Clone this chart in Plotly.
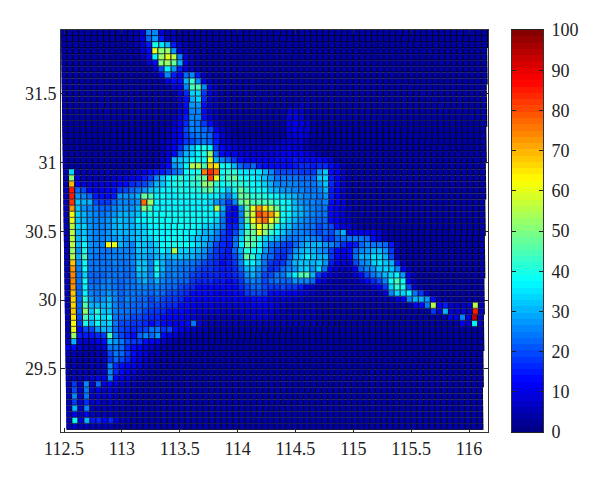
import numpy as np
import plotly.graph_objects as go

N_COLS = 70
BG = 4
x_ticks = [112.5, 113, 113.5, 114, 114.5, 115, 115.5, 116]
y_ticks = [29.5, 30, 30.5, 31, 31.5]
bar_ticks = list(range(0, 101, 10))

rows_river = [
    [4]*12+[6,9,25,25,8,5,5],
    [4]*12+[6,10,22,27,15,6,5],
    [4]*12+[5,9,15,40,35,30,15,7,5],
    [4]*13+[8,14,60,50,52,28,8,6],
    [4]*13+[7,12,36,52,60,55,25,8,6],
    [4]*14+[8,14,50,53,48,30,10,6],
    [4]*15+[8,20,36,28,15,8,6],
    [4]*16+[10,25,15,12,22,25,15,7],
    [4]*17+[10,14,14,30,43,26,10,6],
    [4]*18+[8,10,26,44,44,25,9,6],
    [4]*19+[8,16,34,34,18,8,5],
    [4]*19+[7,14,30,34,16,7,5],
    [4]*19+[7,13,28,28,14,7,5]+[4]*12+[6,7,6],
    [4]*19+[7,12,25,25,13,7,5]+[4]*11+[8,9,7],
    [4]*18+[6,9,15,26,25,14,8,5]+[4]*11+[9,10,8],
    [4]*18+[7,11,16,25,24,18,14,7,5]+[4]*10+[10,11,10,8],
    [4]*17+[6,8,12,20,25,25,22,20,12,7,5]+[4]*9+[10,11,10,8],
    [4]*17+[6,9,12,18,22,24,24,22,15,8,6]+[4]*9+[9,10,10,8],
    [4]*16+[5,7,10,14,18,20,22,24,22,15,9,7,5,5,5,5,5,5,6,6,8,9,9,8,6],
]
rows_body_top = [
    [4]*16+[6,8,12,16,26,32,38,40,36,18,12,10,8,7,7,7,7,7,8,9,9,10,9,8,6],
    [4]*16+[6,9,14,22,30,34,36,40,52,22,14,12,10,8,8,8,8,8,9,10,11,12,12,11,10,8,6],
    [4]*16+[7,10,30,32,34,38,38,38,60,30,25,22,18,14,12,12,12,12,12,13,14,14,15,14,14,13,14,12,8],
    [4]*16+[8,14,28,30,36,55,55,45,68,65,38,38,30,22,20,22,15,14,13,14,14,14,15,16,16,15,16,16,14,10,6],
    [4,33,5,5,5,5,5,5,5,5,6,7,8,10,13,15,15,18,22,26,38,38,40,75,83,78,38,42,42,35,35,35,35,30,25,20,20,20,20,18,18,18,28,32,14,11,7],
    [4,50,8,6,6,6,6,6,7,8,9,10,12,15,18,26,32,36,38,42,38,42,45,48,80,60,40,45,48,40,38,38,35,32,28,24,24,24,24,22,22,22,32,34,15,11,7],
    [4,70,12,9,8,8,8,9,10,12,14,16,18,20,24,30,32,36,40,40,38,42,42,52,50,42,38,40,42,42,40,38,36,34,30,26,26,26,26,24,24,24,28,32,16,11,7],
    [5,85,22,20,12,10,10,12,14,18,20,22,24,28,32,34,36,36,38,40,38,40,40,45,48,40,36,32,40,48,42,38,38,36,32,30,28,28,26,25,24,24,26,30,15,11,7],
    [5,85,28,25,22,15,14,14,15,28,28,28,30,48,45,36,38,36,36,38,38,38,38,38,36,36,30,26,34,48,46,42,42,40,38,36,34,32,30,28,26,26,24,28,15,11,7],
    [5,82,32,30,30,20,18,18,22,26,26,25,28,78,52,36,36,36,36,36,36,36,36,36,34,28,24,18,26,46,50,44,44,44,44,40,38,36,30,28,26,26,24,26,14,11,8],
    [5,72,32,28,26,24,22,22,25,28,28,28,30,50,45,36,36,36,36,36,36,36,36,36,36,55,30,15,12,28,46,60,72,65,55,48,40,36,32,30,28,26,24,24,14,11,8,6],
    [5,62,34,30,28,26,24,26,28,30,30,30,32,36,40,38,38,38,38,38,38,38,38,38,36,36,26,14,12,26,50,58,80,75,72,60,38,36,32,30,28,26,24,24,14,11,8,6],
    [5,60,32,30,28,26,26,28,30,32,30,30,36,36,38,38,38,38,38,38,38,38,38,36,36,34,24,14,13,26,46,62,72,78,62,52,38,34,30,28,26,24,22,22,14,12,9,7],
    [5,55,34,34,28,26,26,28,30,32,30,30,34,34,36,36,38,38,38,38,38,38,36,34,32,30,24,15,16,28,40,52,62,55,50,38,34,32,28,26,24,24,20,22,20,14,10,8,6],
    [5,55,30,32,28,26,26,28,30,30,30,30,32,34,36,36,36,36,38,38,36,36,34,30,30,26,20,15,20,30,44,48,60,50,42,36,32,28,26,26,24,22,20,22,20,26,30,10,12,12,12,12,8,6],
    [5,55,30,34,28,26,26,28,28,30,28,30,32,34,34,36,36,38,38,38,36,34,32,30,28,24,18,16,24,34,46,46,42,34,34,30,28,24,24,26,28,26,24,20,18,22,24,24,24,24,22,14,8,6],
]
rows_body_low = [
    [5,55,30,38,28,26,25,62,60,30,28,26,34,32,30,34,38,38,40,38,38,36,34,30,25,20,16,15,24,36,48,44,38,30]+[24,22,20,18,22,28,30,30,30,28,26,22,16,14,15,22,25,24,24,22,15,6],
    [5,52,28,40,26,25,24,24,26,26,26,26,32,32,30,32,36,34,55,34,34,32,30,28,22,18,16,15,22,30,42,38,36,28]+[22,20,18,20,28,30,32,30,28,26,18,14,12,14,22,25,28,30,30,28,18,6],
    [5,55,30,44,26,24,24,26,26,26,26,26,30,30,28,30,32,30,32,32,30,30,28,26,20,18,15,15,20,28,48,42,34,26]+[22,18,16,22,30,32,36,32,30,30,18,14,10,14,24,30,30,35,34,30,20,6],
    [5,68,28,38,24,24,24,24,26,24,24,26,32,32,26,36,30,26,28,26,26,24,22,20,18,16,14,15,18,26,36,36,32,24]+[18,16,18,24,30,32,32,30,32,28,15,10,8,8,20,26,28,34,35,32,30,15,6],
    [6,72,26,38,24,24,24,24,24,24,24,24,34,32,26,40,30,26,26,24,24,22,20,18,18,16,15,15,16,22,30,32,28,22]+[16,18,22,26,28,32,34,28,34,24,12,8,7,7,12,22,25,28,32,34,32,25,12,6],
    [6,74,24,34,22,22,22,24,24,24,22,24,30,30,26,36,28,24,26,24,22,20,18,16,16,16,15,15,16,20,28,30,26,20]+[20,24,24,30,36,45,46,30,18,14,8,7,6,6,8,14,20,24,28,30,34,36,28,10,6],
    [6,74,24,38,22,22,24,26,24,22,24,24,28,30,26,30,26,24,24,22,22,18,16,16,16,15,15,14,15,18,24,26,24,20]+[22,24,22,22,28,25,25,22,12,8,6,6,5,5,6,8,14,16,20,25,38,45,38,12,6],
    [6,72,22,36,24,24,26,26,24,22,24,24,26,26,24,26,24,22,22,20,18,16,14,14,14,14,13,13,14,16,20,22,22,20]+[18,18,20,18,18,15,10,8,6,5,5,5,5,5,5,5,6,8,12,18,34,42,40,20,7],
    [6,68,22,36,26,24,26,28,26,22,24,24,24,24,22,24,22,20,20,18,16,14,14,13,13,12,12,12,13,14,18,20,20,18]+[14,14,14,12,12,10,8,7]+[5]*11+[9,25,33,33,36,24,18,7],
    [6,66,22,42,28,26,28,30,26,22,26,24,22,22,20,22,20,18,18,16,14,13,12,12,12,11,11,10,11,12,12,14,14,14]+[10,9,8,8,7,7,6,6]+[5]*13+[10,12,25,30,30,28,14,6],
    [6,66,22,46,30,30,30,32,26,22,24,22,22,22,20,20,18,16,16,14,13,11,10,10,10,9,9,9,9,10,10,11,12,12]+[10,8,7,6,6,6,6,5]+[4]*16+[12,14,24,55,12,15,8,7,7,8,55,6],
    [6,68,22,52,32,42,32,32,26,24,24,22,22,20,18,18,16,14,14,13,12,10,9,8,8,8,7,7,7,8,8,9,10,10]+[8,7,6,6,5,5,5,5]+[4]*19+[18,8,30,9,8,8,7,85,6],
    [6,65,20,45,34,38,34,36,24,22,22,20,20,18,16,16,14,12,12,12,10,8,7,6,6,5,5,5,5,6,7,8,8,8]+[7,6,5,5,5,5,5,5]+[4]*22+[10,10,25,10,95,6],
    [6,62,18,40,30,38,32,34,24,20,20,18,18,16,14,16,14,12,10,12,14,24,8,6,5]+[5]*9+[5]*8+[4]*24+[12,8,36,5],
    [6,60,14,20,20,28,30,30,22,20,18,16,18,20,24,24,18,20,14,10,8,7,6,5],
    [6,52,15,15,15,16,18,45,24,20,16,14,22,26,22,28,14,10,8,6,5],
]
rows_south = [
    [5,30,8,7,8,10,14,30,28,24,20,18,18,14,12,10,7,5],
    [12,14,7,6,6,7,8,24,24,22,16,14,12,9,7,5],
    [5,6,4,4,4,5,6,20,24,22,18,14,10,8,6,5],
    [4,5,4,4,5,5,6,18,22,20,16,12,9,7,5],
    [4,5,4,4,5,5,6,26,16,14,12,10,8,6,5],
    [4,5,5,5,5,6,7,26,16,14,10,8,6,5],
    [5,6,6,7,8,10,10,26,12,10,8,6,5],
    [6,18,7,26,7,22,8,12,8,7,6,5],
    [6,20,7,24,7,10,7,9,7,6,5],
    [6,26,7,24,7,9,7,8,6,5],
    [6,18,7,16,7,8,6,7,6,5],
    [6,30,7,26,6,6,6,6,5],
    [6,12,6,12,6,6,6,5],
    [6,38,10,30,15,16,14,16,8,6,5],
    [5,8,6,7,6,6,6,5],
]

rows = rows_river + rows_body_top + rows_body_low + rows_south
z = [(r + [BG] * N_COLS)[:N_COLS] for r in rows]
n_rows = len(z)

# axis frame of the figure and the slightly tapered mesh inside it
x_range = [112.474, 116.164]
y_range = [29.04, 31.965]
mesh_left = (112.474, 112.5215)
mesh_right = (116.164, 116.12)
mesh_top, mesh_bottom = 31.965, 29.055


def jet(v):
    r = np.clip(min(4 * v - 1.5, -4 * v + 4.5), 0, 1)
    g = np.clip(min(4 * v - 0.5, -4 * v + 3.5), 0, 1)
    b = np.clip(min(4 * v + 0.5, -4 * v + 2.5), 0, 1)
    return f"rgb({int(r*255)},{int(g*255)},{int(b*255)})"


LEVELS = 64
scale = []
for i in range(LEVELS):
    c = jet((i + 0.5) / LEVELS)
    scale.append([i / LEVELS, c])
    scale.append([(i + 1) / LEVELS, c])

fig = go.Figure()
dy = (mesh_top - mesh_bottom) / n_rows
for j, row in enumerate(z):
    t = (j + 0.5) / n_rows
    left = mesh_left[0] + t * (mesh_left[1] - mesh_left[0])
    right = mesh_right[0] + t * (mesh_right[1] - mesh_right[0])
    yc = mesh_top - (j + 0.5) * dy
    dx = (right - left) / N_COLS
    fig.add_trace(go.Heatmap(z=[[0]], x0=(left + right) / 2, dx=right - left, y0=yc, dy=dy,
                             colorscale=[[0, "#000018"], [1, "#000018"]], showscale=False,
                             hoverinfo="skip", xaxis="x", yaxis="y"))
    fig.add_trace(go.Heatmap(z=[row], x0=left + dx / 2, dx=dx, y0=yc, dy=dy,
                             xgap=1, ygap=0.7, coloraxis="coloraxis", xaxis="x", yaxis="y"))

bar_levels = [(i + 0.5) * 100 / LEVELS for i in range(LEVELS)]
fig.add_trace(go.Heatmap(z=[[v] for v in bar_levels], x=[0], y=bar_levels,
                         coloraxis="coloraxis", xaxis="x2", yaxis="y2", hoverinfo="skip"))

font = dict(family="Liberation Serif, Times New Roman, serif", size=18, color="#222222")
axis_common = dict(showgrid=False, zeroline=False, showline=True, linecolor="#333333", linewidth=1,
                   mirror="ticks", ticks="inside", ticklen=4, tickcolor="#222222", tickfont=font)
fig.update_layout(
    width=584, height=464, autosize=False,
    margin=dict(l=53, r=49, t=22, b=40),
    paper_bgcolor="white", plot_bgcolor="white", showlegend=False,
    coloraxis=dict(colorscale=scale, cmin=0, cmax=100, showscale=False),
    xaxis=dict(domain=[0, 427 / 482], range=x_range, tickvals=x_ticks, ticktext=[f"{v:g}" for v in x_ticks], **axis_common),
    yaxis=dict(domain=[0, 1], range=y_range, tickvals=y_ticks, ticktext=[f"{v:g}" for v in y_ticks], **axis_common),
    xaxis2=dict(domain=[451 / 482, 1], range=[-0.5, 0.5], showticklabels=False, showgrid=False, zeroline=False,
                showline=True, linecolor="#222222", mirror=True, ticks="", anchor="y2"),
    yaxis2=dict(domain=[0, 1], range=[0, 100], side="right", anchor="x2", tickvals=bar_ticks, ticklabelstandoff=4, **axis_common),
)
fig.write_html("out.html")
